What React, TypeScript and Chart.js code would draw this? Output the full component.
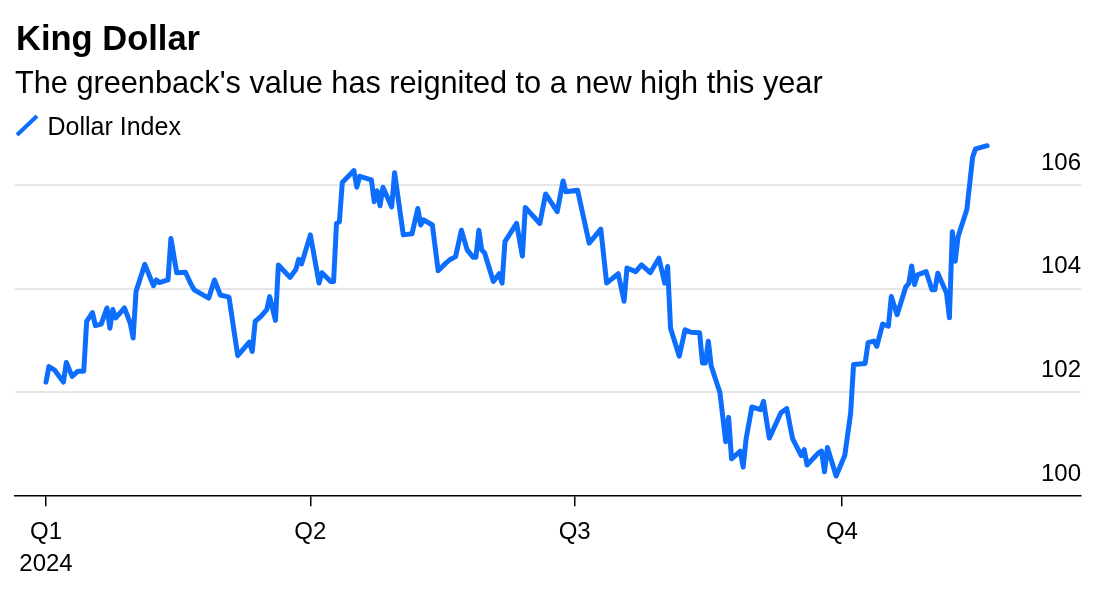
import React, { useEffect, useRef } from 'react';
import { Chart, registerables } from 'chart.js';

Chart.register(...registerables);

const TITLE = 'King Dollar';
const SUBTITLE = "The greenback's value has reignited to a new high this year";
const SERIES_NAME = 'Dollar Index';
const BLUE = '#0d6efd';
const FONT = '"Liberation Sans", Arial, Helvetica, sans-serif';

const dates = [
  '01-01', '01-02', '01-04', '01-07', '01-08', '01-10', '01-12', '01-14', '01-15', '01-17',
  '01-18', '01-20', '01-22', '01-23', '01-24', '01-25', '01-28', '01-30', '01-31', '02-01',
  '02-04', '02-07', '02-08', '02-09', '02-12', '02-13', '02-15', '02-18', '02-20', '02-21',
  '02-26', '02-28', '03-01', '03-04', '03-07', '03-11', '03-12', '03-13', '03-15', '03-17',
  '03-18', '03-20', '03-21', '03-25', '03-27', '03-28', '03-29', '04-01', '04-04', '04-05',
  '04-08', '04-09', '04-10', '04-11', '04-12', '04-16', '04-17', '04-18', '04-22', '04-23',
  '04-24', '04-25', '04-26', '04-29', '04-30', '05-03', '05-06', '05-08', '05-09', '05-10',
  '05-13', '05-15', '05-17', '05-19', '05-21', '05-23', '05-25', '05-27', '05-28', '05-29',
  '05-30', '05-31', '06-03', '06-05', '06-06', '06-07', '06-11', '06-13', '06-14', '06-19',
  '06-21', '06-25', '06-27', '06-28', '07-02', '07-06', '07-10', '07-12', '07-16', '07-18',
  '07-19', '07-22', '07-24', '07-27', '07-30', '08-01', '08-02', '08-03', '08-06', '08-08',
  '08-10', '08-13', '08-14', '08-15', '08-16', '08-17', '08-20', '08-22', '08-23', '08-24',
  '08-27', '08-28', '08-29', '08-31', '09-03', '09-04', '09-06', '09-10', '09-12', '09-14',
  '09-17', '09-18', '09-19', '09-23', '09-24', '09-25', '09-26', '09-29', '10-02', '10-04',
  '10-05', '10-09', '10-10', '10-12', '10-13', '10-15', '10-17', '10-18', '10-20', '10-23',
  '10-24', '10-25', '10-26', '10-27', '10-30', '11-01', '11-02', '11-03', '11-06', '11-07',
  '11-08', '11-09', '11-10', '11-13', '11-15', '11-16', '11-20',
];

const values = [
  102.2, 102.5, 102.43, 102.2, 102.58, 102.31, 102.41, 102.41, 103.37, 103.54,
  103.29, 103.32, 103.63, 103.24, 103.6, 103.44, 103.63, 103.34, 103.05, 103.95,
  104.47, 104.06, 104.17, 104.12, 104.17, 104.97, 104.31, 104.32, 104.08, 103.98,
  103.82, 104.17, 103.88, 103.84, 102.71, 102.97, 102.79, 103.37, 103.47, 103.6,
  103.85, 103.39, 104.46, 104.22, 104.37, 104.57, 104.48, 105.04, 104.11, 104.31,
  104.14, 104.14, 105.26, 105.29, 106.05, 106.28, 105.96, 106.17, 106.1, 105.68,
  105.89, 105.6, 105.96, 105.58, 106.24, 105.04, 105.06, 105.55, 105.23, 105.33,
  105.23, 104.35, 104.46, 104.56, 104.62, 105.13, 104.75, 104.61, 104.61, 105.13,
  104.75, 104.69, 104.14, 104.29, 104.11, 104.91, 105.26, 104.63, 105.57, 105.26,
  105.83, 105.49, 106.08, 105.87, 105.9, 104.88, 105.15, 104.11, 104.29, 103.76,
  104.4, 104.33, 104.46, 104.31, 104.59, 104.11, 104.43, 103.24, 102.7, 103.21,
  103.16, 103.15, 102.57, 102.57, 102.99, 102.51, 102.0, 101.05, 101.52, 100.72,
  100.87, 100.56, 101.1, 101.72, 101.67, 101.83, 101.12, 101.61, 101.69, 101.11,
  100.78, 100.9, 100.6, 100.84, 100.87, 100.47, 100.94, 100.39, 100.79, 101.6,
  102.54, 102.56, 102.96, 102.99, 102.89, 103.32, 103.28, 103.85, 103.5, 104.04,
  104.1, 104.44, 104.08, 104.27, 104.33, 103.98, 103.98, 104.3, 103.92, 103.44,
  105.1, 104.53, 105.01, 105.53, 106.54, 106.7, 106.76,
];

const quarterStarts = ['01-01', '04-01', '07-01', '10-01'];
const quarterLabels: (string | string[])[] = [['Q1', '2024'], 'Q2', 'Q3', 'Q4'];
const yTickValues = [100, 102, 104, 106];

const dayOfYear = (md: string) => {
  const [m, d] = md.split('-').map(Number);
  return (Date.UTC(2024, m - 1, d) - Date.UTC(2024, 0, 1)) / 86400000;
};

const headerPlugin = {
  id: 'header',
  afterDraw(chart: any) {
    const ctx = chart.ctx as CanvasRenderingContext2D;
    ctx.save();
    ctx.fillStyle = '#000';
    ctx.textAlign = 'left';
    ctx.textBaseline = 'alphabetic';
    ctx.font = `bold 34.5px ${FONT}`;
    ctx.fillText(TITLE, 16, 50);
    ctx.font = `30.7px ${FONT}`;
    ctx.fillText(SUBTITLE, 15, 93);
    // legend
    ctx.strokeStyle = BLUE;
    ctx.lineWidth = 4;
    ctx.lineCap = 'butt';
    ctx.beginPath();
    ctx.moveTo(17, 135);
    ctx.lineTo(37, 116);
    ctx.stroke();
    ctx.font = `25px ${FONT}`;
    ctx.fillText(SERIES_NAME, 47.5, 135);
    ctx.restore();
  },
};

export default function App() {
  const ref = useRef<HTMLCanvasElement | null>(null);

  useEffect(() => {
    if (!ref.current) return;
    const chart = new Chart(ref.current, {
      type: 'line',
      data: {
        datasets: [
          {
            label: SERIES_NAME,
            data: dates.map((d, i) => ({ x: dayOfYear(d), y: values[i] })),
            borderColor: BLUE,
            backgroundColor: BLUE,
            borderWidth: 5,
            pointRadius: 0,
            tension: 0,
            borderJoinStyle: 'round',
            borderCapStyle: 'round',
          },
        ],
      },
      options: {
        animation: false,
        responsive: false,
        layout: { padding: { left: 15, right: 22, top: 140, bottom: 3 } },
        plugins: {
          legend: { display: false },
          tooltip: { enabled: false },
          title: { display: false },
        },
        scales: {
          x: {
            type: 'linear',
            min: -10.67,
            max: 356.3,
            afterBuildTicks: (s: any) => {
              s.ticks = quarterStarts.map((q) => ({ value: dayOfYear(q) }));
            },
            ticks: {
              autoSkip: false,
              maxRotation: 0,
              padding: 10,
              color: '#000',
              font: { family: FONT, size: 24, lineHeight: 1.33 },
              callback: (_v: any, i: number) => quarterLabels[i],
            },
            grid: {
              drawOnChartArea: false,
              drawTicks: true,
              tickLength: 10,
              color: '#000',
              lineWidth: 1.5,
            },
            border: { display: true, color: '#000', width: 1.5 },
          },
          y: {
            position: 'right',
            min: 100,
            max: 106.87,
            afterBuildTicks: (s: any) => {
              s.ticks = yTickValues.map((v) => ({ value: v }));
            },
            ticks: {
              mirror: true,
              padding: 0,
              labelOffset: -22,
              color: '#000',
              font: { family: FONT, size: 24 },
              callback: (v: any) => String(v),
            },
            grid: {
              drawTicks: false,
              color: (c: any) => (c.tick && c.tick.value === 100 ? 'rgba(0,0,0,0)' : '#e6e6e6'),
              lineWidth: 2,
            },
            border: { display: false },
          },
        },
      },
      plugins: [headerPlugin],
    } as any);
    return () => chart.destroy();
  }, []);

  return (
    <div style={{ position: 'fixed', left: 0, top: 0, width: 1103, height: 593, background: '#fff' }}>
      <canvas ref={ref} width={1103} height={593} style={{ display: 'block' }} />
    </div>
  );
}
